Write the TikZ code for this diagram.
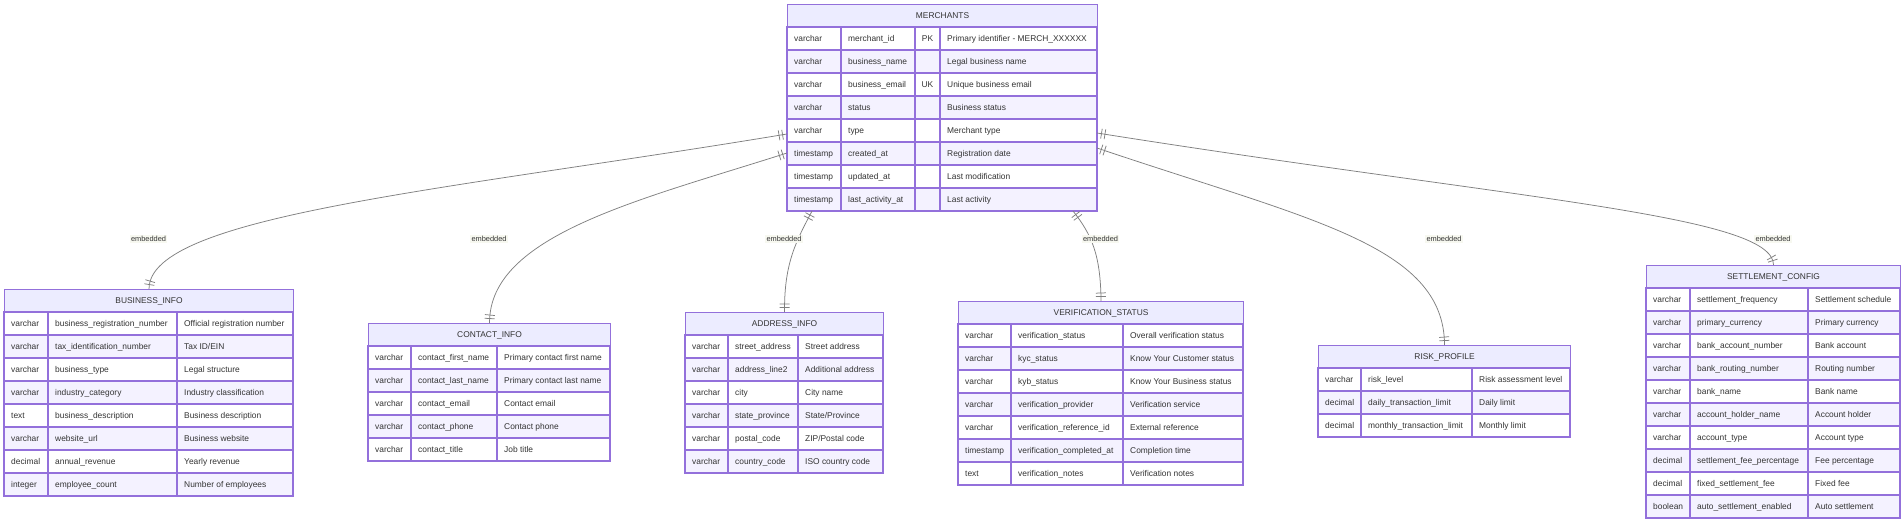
\documentclass[tikz,border=0pt]{standalone}
\usepackage{fontspec}
\setmainfont{Liberation Sans}
\usetikzlibrary{decorations.markings}
\definecolor{ebord}{HTML}{9370DB}
\definecolor{ehead}{HTML}{ECECFF}
\definecolor{rowlav}{HTML}{F4F2FF}
\definecolor{etext}{HTML}{333333}
\definecolor{linec}{HTML}{808080}
\definecolor{lblbg}{HTML}{F7F8F0}
\tikzset{
  cellbox/.style={draw=ebord, line width=1.1pt},
  hdr/.style={cellbox, fill=ehead, inner sep=0pt, text=etext, font=\fontsize{8.4}{10}\selectfont},
  ctext/.style={inner sep=0pt, anchor=base west, text=etext, font=\fontsize{8.4}{10}\selectfont},
  ktext/.style={inner sep=0pt, anchor=base, text=etext, font=\fontsize{8.4}{10}\selectfont},
  lbl/.style={fill=lblbg, inner sep=1.5pt, text=etext, font=\fontsize{7.4}{9}\selectfont},
  bar/.style={draw=linec, line width=0.75pt},
  rel/.style={draw=linec, line width=0.75pt, postaction={decorate},
    decoration={markings,
      mark=at position 4.5pt with {\draw[bar] (0,-5pt) -- (0,5pt);},
      mark=at position 8pt with {\draw[bar] (0,-5pt) -- (0,5pt);},
      mark=at position -4.5pt with {\draw[bar] (0,-5pt) -- (0,5pt);},
      mark=at position -8pt with {\draw[bar] (0,-5pt) -- (0,5pt);}}}
}
% entity header: id, title, L, A, B, R, T
\newcommand{\ent}[7]{%
  \xdef\eN{#1}\xdef\eL{#3}\xdef\eA{#4}\xdef\eB{#5}\xdef\eR{#6}\xdef\eT{#7}%
  \pgfmathsetmacro\ew{#6-#3}%
  \node[hdr, minimum width=\ew pt, minimum height=23pt, anchor=north west] (#1) at (#3,#7) {#2};%
}
% row without key: i, type, name, comment
\newcommand{\arow}[4]{%
  \pgfmathsetmacro\yt{\eT+23*#1}\pgfmathsetmacro\yb{\yt+23}\pgfmathsetmacro\yq{\yt+14.6}%
  \ifodd#1\relax\def\rf{white}\else\def\rf{rowlav}\fi
  \draw[cellbox, fill=\rf] (\eL,\yt) rectangle (\eA,\yb);
  \draw[cellbox, fill=\rf] (\eA,\yt) rectangle (\eB,\yb);
  \draw[cellbox, fill=\rf] (\eB,\yt) rectangle (\eR,\yb);
  \node[ctext] (\eN-t#1) at ({\eL+7},\yq) {#2};
  \node[ctext] (\eN-n#1) at ({\eA+7},\yq) {#3};
  \node[ctext] (\eN-c#1) at ({\eB+7},\yq) {#4};
}
% row with key column (K = \eK): i, type, name, key, comment
\newcommand{\krow}[5]{%
  \pgfmathsetmacro\yt{\eT+23*#1}\pgfmathsetmacro\yb{\yt+23}\pgfmathsetmacro\yq{\yt+14.6}%
  \ifodd#1\relax\def\rf{white}\else\def\rf{rowlav}\fi
  \draw[cellbox, fill=\rf] (\eL,\yt) rectangle (\eA,\yb);
  \draw[cellbox, fill=\rf] (\eA,\yt) rectangle (\eB,\yb);
  \draw[cellbox, fill=\rf] (\eB,\yt) rectangle (\eK,\yb);
  \draw[cellbox, fill=\rf] (\eK,\yt) rectangle (\eR,\yb);
  \node[ctext] (\eN-t#1) at ({\eL+7},\yq) {#2};
  \node[ctext] (\eN-n#1) at ({\eA+7},\yq) {#3};
  \node[ktext] (\eN-k#1) at ({(\eB+\eK)/2},\yq) {#4};
  \node[ctext] (\eN-c#1) at ({\eK+7},\yq) {#5};
}
\begin{document}
\begin{tikzpicture}[x=1pt, y=-1pt]
\useasboundingbox (0,0) rectangle (1904,524);
\fill[white] (0,0) rectangle (1904,524);

% MERCHANTS
\def\eK{940}
\ent{merchants}{MERCHANTS}{787}{841}{915}{1097}{4}
\krow{1}{varchar}{merchant\_id}{PK}{Primary identifier - MERCH\_XXXXXX}
\krow{2}{varchar}{business\_name}{}{Legal business name}
\krow{3}{varchar}{business\_email}{UK}{Unique business email}
\krow{4}{varchar}{status}{}{Business status}
\krow{5}{varchar}{type}{}{Merchant type}
\krow{6}{timestamp}{created\_at}{}{Registration date}
\krow{7}{timestamp}{updated\_at}{}{Last modification}
\krow{8}{timestamp}{last\_activity\_at}{}{Last activity}

% BUSINESS_INFO
\ent{business}{BUSINESS\_INFO}{4}{48}{177}{293}{289}
\arow{1}{varchar}{business\_registration\_number}{Official registration number}
\arow{2}{varchar}{tax\_identification\_number}{Tax ID/EIN}
\arow{3}{varchar}{business\_type}{Legal structure}
\arow{4}{varchar}{industry\_category}{Industry classification}
\arow{5}{text}{business\_description}{Business description}
\arow{6}{varchar}{website\_url}{Business website}
\arow{7}{decimal}{annual\_revenue}{Yearly revenue}
\arow{8}{integer}{employee\_count}{Number of employees}

% CONTACT_INFO
\ent{contact}{CONTACT\_INFO}{368}{411}{497}{610}{323}
\arow{1}{varchar}{contact\_first\_name}{Primary contact first name}
\arow{2}{varchar}{contact\_last\_name}{Primary contact last name}
\arow{3}{varchar}{contact\_email}{Contact email}
\arow{4}{varchar}{contact\_phone}{Contact phone}
\arow{5}{varchar}{contact\_title}{Job title}

% ADDRESS_INFO
\ent{address}{ADDRESS\_INFO}{685}{728}{798}{883}{312}
\arow{1}{varchar}{street\_address}{Street address}
\arow{2}{varchar}{address\_line2}{Additional address}
\arow{3}{varchar}{city}{City name}
\arow{4}{varchar}{state\_province}{State/Province}
\arow{5}{varchar}{postal\_code}{ZIP/Postal code}
\arow{6}{varchar}{country\_code}{ISO country code}

% VERIFICATION_STATUS
\ent{verif}{VERIFICATION\_STATUS}{958}{1011}{1123}{1243}{301}
\arow{1}{varchar}{verification\_status}{Overall verification status}
\arow{2}{varchar}{kyc\_status}{Know Your Customer status}
\arow{3}{varchar}{kyb\_status}{Know Your Business status}
\arow{4}{varchar}{verification\_provider}{Verification service}
\arow{5}{varchar}{verification\_reference\_id}{External reference}
\arow{6}{timestamp}{verification\_completed\_at}{Completion time}
\arow{7}{text}{verification\_notes}{Verification notes}

% RISK_PROFILE
\ent{risk}{RISK\_PROFILE}{1318}{1361}{1472}{1570}{345}
\arow{1}{varchar}{risk\_level}{Risk assessment level}
\arow{2}{decimal}{daily\_transaction\_limit}{Daily limit}
\arow{3}{decimal}{monthly\_transaction\_limit}{Monthly limit}

% SETTLEMENT_CONFIG
\ent{settle}{SETTLEMENT\_CONFIG}{1646}{1690}{1808}{1900}{265}
\arow{1}{varchar}{settlement\_frequency}{Settlement schedule}
\arow{2}{varchar}{primary\_currency}{Primary currency}
\arow{3}{varchar}{bank\_account\_number}{Bank account}
\arow{4}{varchar}{bank\_routing\_number}{Routing number}
\arow{5}{varchar}{bank\_name}{Bank name}
\arow{6}{varchar}{account\_holder\_name}{Account holder}
\arow{7}{varchar}{account\_type}{Account type}
\arow{8}{decimal}{settlement\_fee\_percentage}{Fee percentage}
\arow{9}{decimal}{fixed\_settlement\_fee}{Fixed fee}
\arow{10}{boolean}{auto\_settlement\_enabled}{Auto settlement}

% attachment points on MERCHANTS
\coordinate (m-l1) at (787,134);
\coordinate (m-l2) at (787,153);
\coordinate (m-b1) at (812,211);
\coordinate (m-b2) at (1073,211);
\coordinate (m-r1) at (1097,133);
\coordinate (m-r2) at (1097,148);

% relationships
\draw[rel] (m-l1) .. controls (450,190) and (148.5,215) .. (business.north);
\draw[rel] (m-l2) .. controls (640,200) and (489,235) .. (contact.north);
\draw[rel] (m-b1) .. controls (797,240) and (784,262) .. (address.north);
\draw[rel] (m-b2) .. controls (1092,235) and (1100.5,255) .. (verif.north);
\draw[rel] (m-r2) .. controls (1310,220) and (1444,245) .. (risk.north);
\draw[rel] (m-r1) .. controls (1520,200) and (1773,215) .. (settle.north);

% labels
\node[lbl] (lb1) at (148.5,239) {embedded};
\node[lbl] (lb2) at (489,239) {embedded};
\node[lbl] (lb3) at (784,239) {embedded};
\node[lbl] (lb4) at (1100.5,239) {embedded};
\node[lbl] (lb5) at (1444,239) {embedded};
\node[lbl] (lb6) at (1773,239) {embedded};
\end{tikzpicture}
\end{document}
